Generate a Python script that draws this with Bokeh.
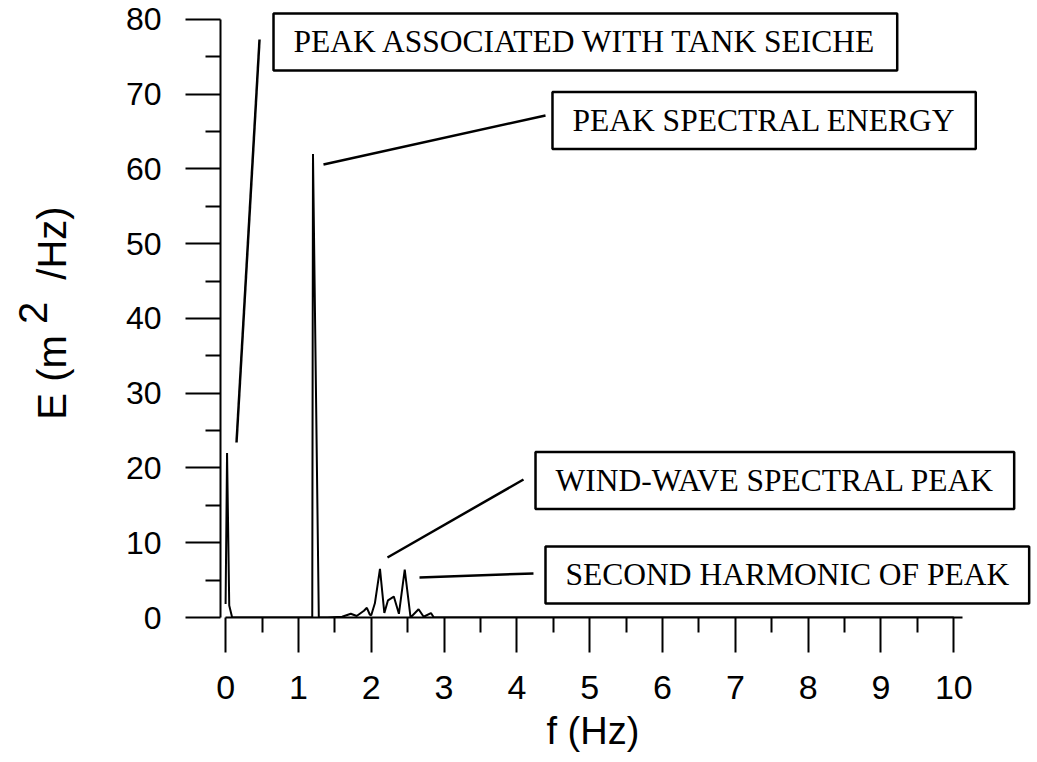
import numpy as np
from bokeh.plotting import figure
from bokeh.models import Label, FixedTicker, Range1d, Title
from bokeh.embed import file_html
from bokeh.resources import INLINE

# ---- spectrum data ----
freq = [0.00, 0.02, 0.05, 0.09, 1.10, 1.19, 1.20, 1.28, 1.40, 1.60, 1.72, 1.80,
        1.90, 1.94, 1.98, 2.00, 2.05, 2.12, 2.18, 2.23, 2.31, 2.38, 2.46, 2.54,
        2.65, 2.72, 2.82, 2.86, 3.00, 10.00]
energy = [1.8, 22.0, 1.6, 0.0, 0.0, 0.0, 62.0, 0.0, 0.0, 0.1, 0.5, 0.2,
          0.9, 1.3, 0.4, 0.3, 1.9, 6.5, 0.6, 2.3, 2.8, 0.5, 6.4, 0.0,
          1.1, 0.1, 0.6, 0.0, 0.0, 0.0]

# ---- axes ----
x_ticks = [0, 1, 2, 3, 4, 5, 6, 7, 8, 9, 10]
x_minor = [0.5, 1.5, 2.5, 3.5, 4.5, 5.5, 6.5, 7.5, 8.5, 9.5]
y_ticks = [0, 10, 20, 30, 40, 50, 60, 70, 80]
y_minor = [5, 15, 25, 35, 45, 55, 65, 75]
x_tick_labels = {0: "0", 1: "1", 2: "2", 3: "3", 4: "4", 5: "5", 6: "6",
                 7: "7", 8: "8", 9: "9", 10: "10"}
y_tick_labels = {0: "0", 10: "10", 20: "20", 30: "30", 40: "40", 50: "50",
                 60: "60", 70: "70", 80: "80"}
x_title = "f (Hz)"
y_title_main = "E (m\u00a0\u00a0\u00a0\u00a0\u00a0/Hz)"
y_title_exp = "2"

# ---- annotations ----
notes = ["PEAK ASSOCIATED WITH TANK SEICHE", "PEAK SPECTRAL ENERGY",
         "WIND-WAVE SPECTRAL PEAK", "SECOND HARMONIC OF PEAK"]
note_x = [0.658, 4.489, 4.256, 4.393]
note_y = [76.99, 66.49, 18.33, 5.69]
ptr_x0 = [0.150, 1.344, 2.223, 2.663]
ptr_y0 = [23.41, 60.60, 8.03, 5.35]
ptr_x1 = [0.466, 4.393, 4.091, 4.228]
ptr_y1 = [77.32, 67.16, 18.46, 5.89]

p = figure(width=1035, height=762, x_range=Range1d(-0.07, 11.122),
           y_range=Range1d(0, 81.47), output_backend="svg", toolbar_location=None,
           min_border_left=220, min_border_right=0, min_border_top=8,
           min_border_bottom=145)
p.grid.visible = False
p.outline_line_color = None
p.background_fill_color = "white"
p.border_fill_color = "white"

p.xaxis.ticker = FixedTicker(ticks=x_ticks, minor_ticks=x_minor)
p.yaxis.ticker = FixedTicker(ticks=y_ticks, minor_ticks=y_minor)
p.xaxis.major_label_overrides = x_tick_labels
p.yaxis.major_label_overrides = y_tick_labels
p.xaxis.bounds = (0, 10.12)
p.yaxis.bounds = (0, 80)

for ax in (p.xaxis[0], p.yaxis[0]):
    ax.major_tick_out = 35
    ax.major_tick_in = 0
    ax.minor_tick_out = 15
    ax.minor_tick_in = 0
    ax.axis_line_width = 2
    ax.major_tick_line_width = 2
    ax.minor_tick_line_width = 2
    ax.axis_line_color = "black"
    ax.major_tick_line_color = "black"
    ax.minor_tick_line_color = "black"
    ax.major_label_text_font = "Liberation Sans"
    ax.major_label_text_color = "black"
p.xaxis.major_label_text_font_size = "34px"
p.yaxis.major_label_text_font_size = "32px"
p.xaxis.major_label_standoff = 23
p.yaxis.major_label_standoff = 24

# y axis title (main part) as the axis label
p.yaxis.axis_label = y_title_main
p.yaxis.axis_label_text_font = "Liberation Sans"
p.yaxis.axis_label_text_font_size = "40px"
p.yaxis.axis_label_text_font_style = "normal"
p.yaxis.axis_label_text_color = "black"
p.yaxis.axis_label_standoff = 49

p.line(freq, energy, line_color="black", line_width=2)
p.segment(ptr_x0, ptr_y0, ptr_x1, ptr_y1, line_color="black", line_width=2.5)

for t, x, y in zip(notes, note_x, note_y):
    p.add_layout(Label(x=x, y=y, text=t, text_font="Liberation Serif",
                       text_font_size="31.5px", text_color="black",
                       text_align="left", text_baseline="middle",
                       border_line_color="black", border_line_width=2.5,
                       background_fill_color="white", padding=(20, 11)))

# x axis title
xt = Title(text=x_title, align="left", offset=326, text_font="Liberation Sans",
           text_font_size="38px", text_font_style="normal", text_color="black")
try:
    xt.standoff = 12
except Exception:
    pass
p.add_layout(xt, "below")

# raised "2" of the y axis title
yt2 = Title(text=y_title_exp, align="center", text_font="Liberation Sans",
            text_font_size="40px", text_font_style="normal", text_color="black")
try:
    yt2.standoff = -40
except Exception:
    try:
        yt2.standoff = 0
    except Exception:
        pass
p.add_layout(yt2, "left")

open("out.html", "w").write(file_html(p, INLINE))
